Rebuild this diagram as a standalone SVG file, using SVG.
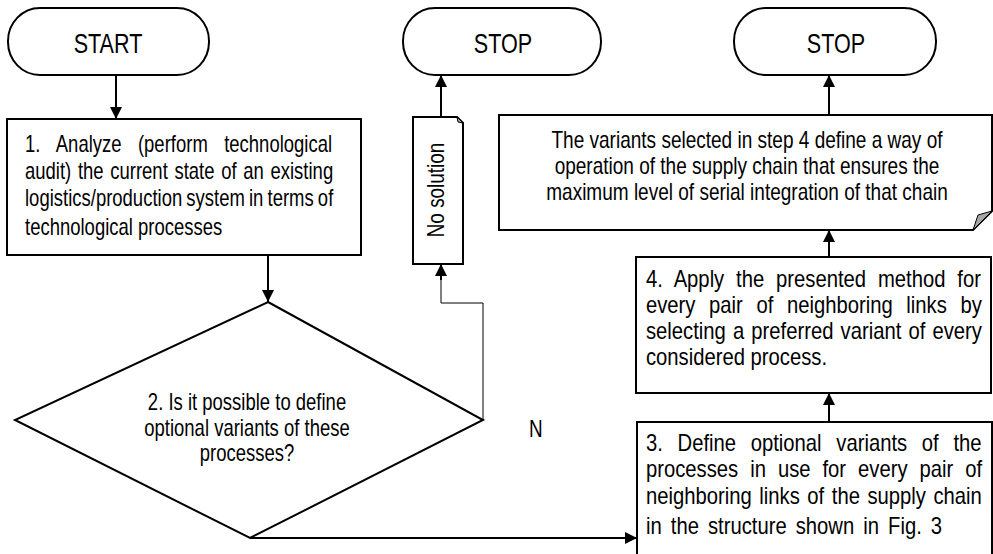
<svg xmlns="http://www.w3.org/2000/svg" width="993" height="554" viewBox="0 0 993 554">
<style>
.t{font-family:"Liberation Sans",Arial,sans-serif;font-size:23px;fill:#000}
.tt{font-family:"Liberation Sans",Arial,sans-serif;font-size:28px;fill:#000}
.sh{fill:#fff;stroke:#000;stroke-width:2}
.c{fill:none;stroke:#000;stroke-width:2}
.thin{fill:none;stroke:#000;stroke-width:1}
.fold{fill:#a6a6a6;stroke:#000;stroke-width:1}
</style>
<defs>
<marker id="ah" viewBox="0 0 12 12" refX="12" refY="6" markerWidth="12" markerHeight="12" orient="auto" markerUnits="userSpaceOnUse">
<path d="M0,0 L12,6 L0,12 z" fill="#000"/>
</marker>
</defs>
<rect width="993" height="554" fill="#fff"/>

<g id="start">
<rect class="sh" x="8" y="8" width="201" height="67" rx="32" ry="33"/>
<g transform="translate(108,0) scale(0.77,1)"><text class="tt" x="0" y="53" text-anchor="middle">START</text></g>
</g>

<g id="stop1">
<rect class="sh" x="403" y="8" width="198" height="67" rx="32" ry="33"/>
<g transform="translate(503,0) scale(0.77,1)"><text class="tt" x="0" y="53" text-anchor="middle">STOP</text></g>
</g>

<g id="stop2">
<rect class="sh" x="734" y="8" width="202" height="67" rx="32" ry="33"/>
<g transform="translate(836,0) scale(0.77,1)"><text class="tt" x="0" y="53" text-anchor="middle">STOP</text></g>
</g>

<g id="step1">
<rect class="sh" x="7" y="119" width="354" height="136"/>
<g transform="translate(25,0) scale(0.804,1)">
<text class="t" x="0" y="152" word-spacing="14">1. Analyze (perform technological</text>
<text class="t" x="0" y="179" word-spacing="1.9">audit) the current state of an existing</text>
<text class="t" x="0" y="206" word-spacing="-1.25">logistics/production system in terms of</text>
<text class="t" x="0" y="235">technological processes</text>
</g>
</g>

<g id="step2">
<polygon class="sh" points="268,302 483,420 250,538 15,420"/>
<g transform="translate(247,0) scale(0.804,1)">
<text class="t" x="0" y="410" text-anchor="middle">2. Is it possible to define</text>
<text class="t" x="0" y="436" text-anchor="middle">optional variants of these</text>
<text class="t" x="0" y="461" text-anchor="middle">processes?</text>
</g>
</g>

<g id="nosolution">
<polygon class="sh" points="413,117 457,117 463,123 463,264 413,264"/>
<polygon class="fold" points="457,117 463,123 458,122"/>
<g transform="translate(436,190) rotate(-90) scale(0.823,1)"><text class="t" x="0" y="8" text-anchor="middle">No solution</text></g>
</g>

<g id="result">
<polygon class="sh" points="499,115 992,115 992,211 973,230 499,230"/>
<polygon class="fold" points="973,230 992,211 978,215"/>
<g transform="translate(747,0) scale(0.827,1)">
<text class="t" x="0" y="148" text-anchor="middle">The variants selected in step 4 define a way of</text>
<text class="t" x="0" y="174" text-anchor="middle">operation of the supply chain that ensures the</text>
<text class="t" x="0" y="200" text-anchor="middle">maximum level of serial integration of that chain</text>
</g>
</g>

<g id="step4">
<rect class="sh" x="636" y="257" width="355" height="136"/>
<g transform="translate(646,0) scale(0.88,1)">
<text class="t" x="0" y="287" word-spacing="7.1">4. Apply the presented method for</text>
<text class="t" x="0" y="313" word-spacing="9.1">every pair of neighboring links by</text>
<text class="t" x="0" y="339" word-spacing="1.7">selecting a preferred variant of every</text>
<text class="t" x="0" y="365">considered process.</text>
</g>
</g>

<g id="step3">
<rect class="sh" x="637" y="422" width="355" height="140"/>
<g transform="translate(646,0) scale(0.88,1)">
<text class="t" x="0" y="451" word-spacing="10.3">3. Define optional variants of the</text>
<text class="t" x="0" y="477" word-spacing="7.2">processes in use for every pair of</text>
<text class="t" x="0" y="504" word-spacing="2.2">neighboring links of the supply chain</text>
<text class="t" x="0" y="534" word-spacing="3.9">in the structure shown in Fig. 3</text>
</g>
</g>

<g id="labelN">
<g transform="translate(529,0) scale(0.823,1)"><text class="t" x="0" y="437">N</text></g>
</g>

<g id="connectors">
<line class="c" x1="116" y1="75" x2="116" y2="119" marker-end="url(#ah)"/>
<line class="c" x1="268" y1="255" x2="268" y2="302" marker-end="url(#ah)"/>
<polyline class="thin" points="483,420 483,303 441,303 441,276"/>
<line class="c" x1="441" y1="280" x2="441" y2="264" marker-end="url(#ah)"/>
<line class="c" x1="441" y1="117" x2="441" y2="75" marker-end="url(#ah)"/>
<line class="c" x1="250" y1="538" x2="637" y2="538" marker-end="url(#ah)"/>
<line class="c" x1="829" y1="422" x2="829" y2="393" marker-end="url(#ah)"/>
<line class="c" x1="829" y1="257" x2="829" y2="230" marker-end="url(#ah)"/>
<line class="c" x1="829" y1="115" x2="829" y2="75" marker-end="url(#ah)"/>
</g>
</svg>
